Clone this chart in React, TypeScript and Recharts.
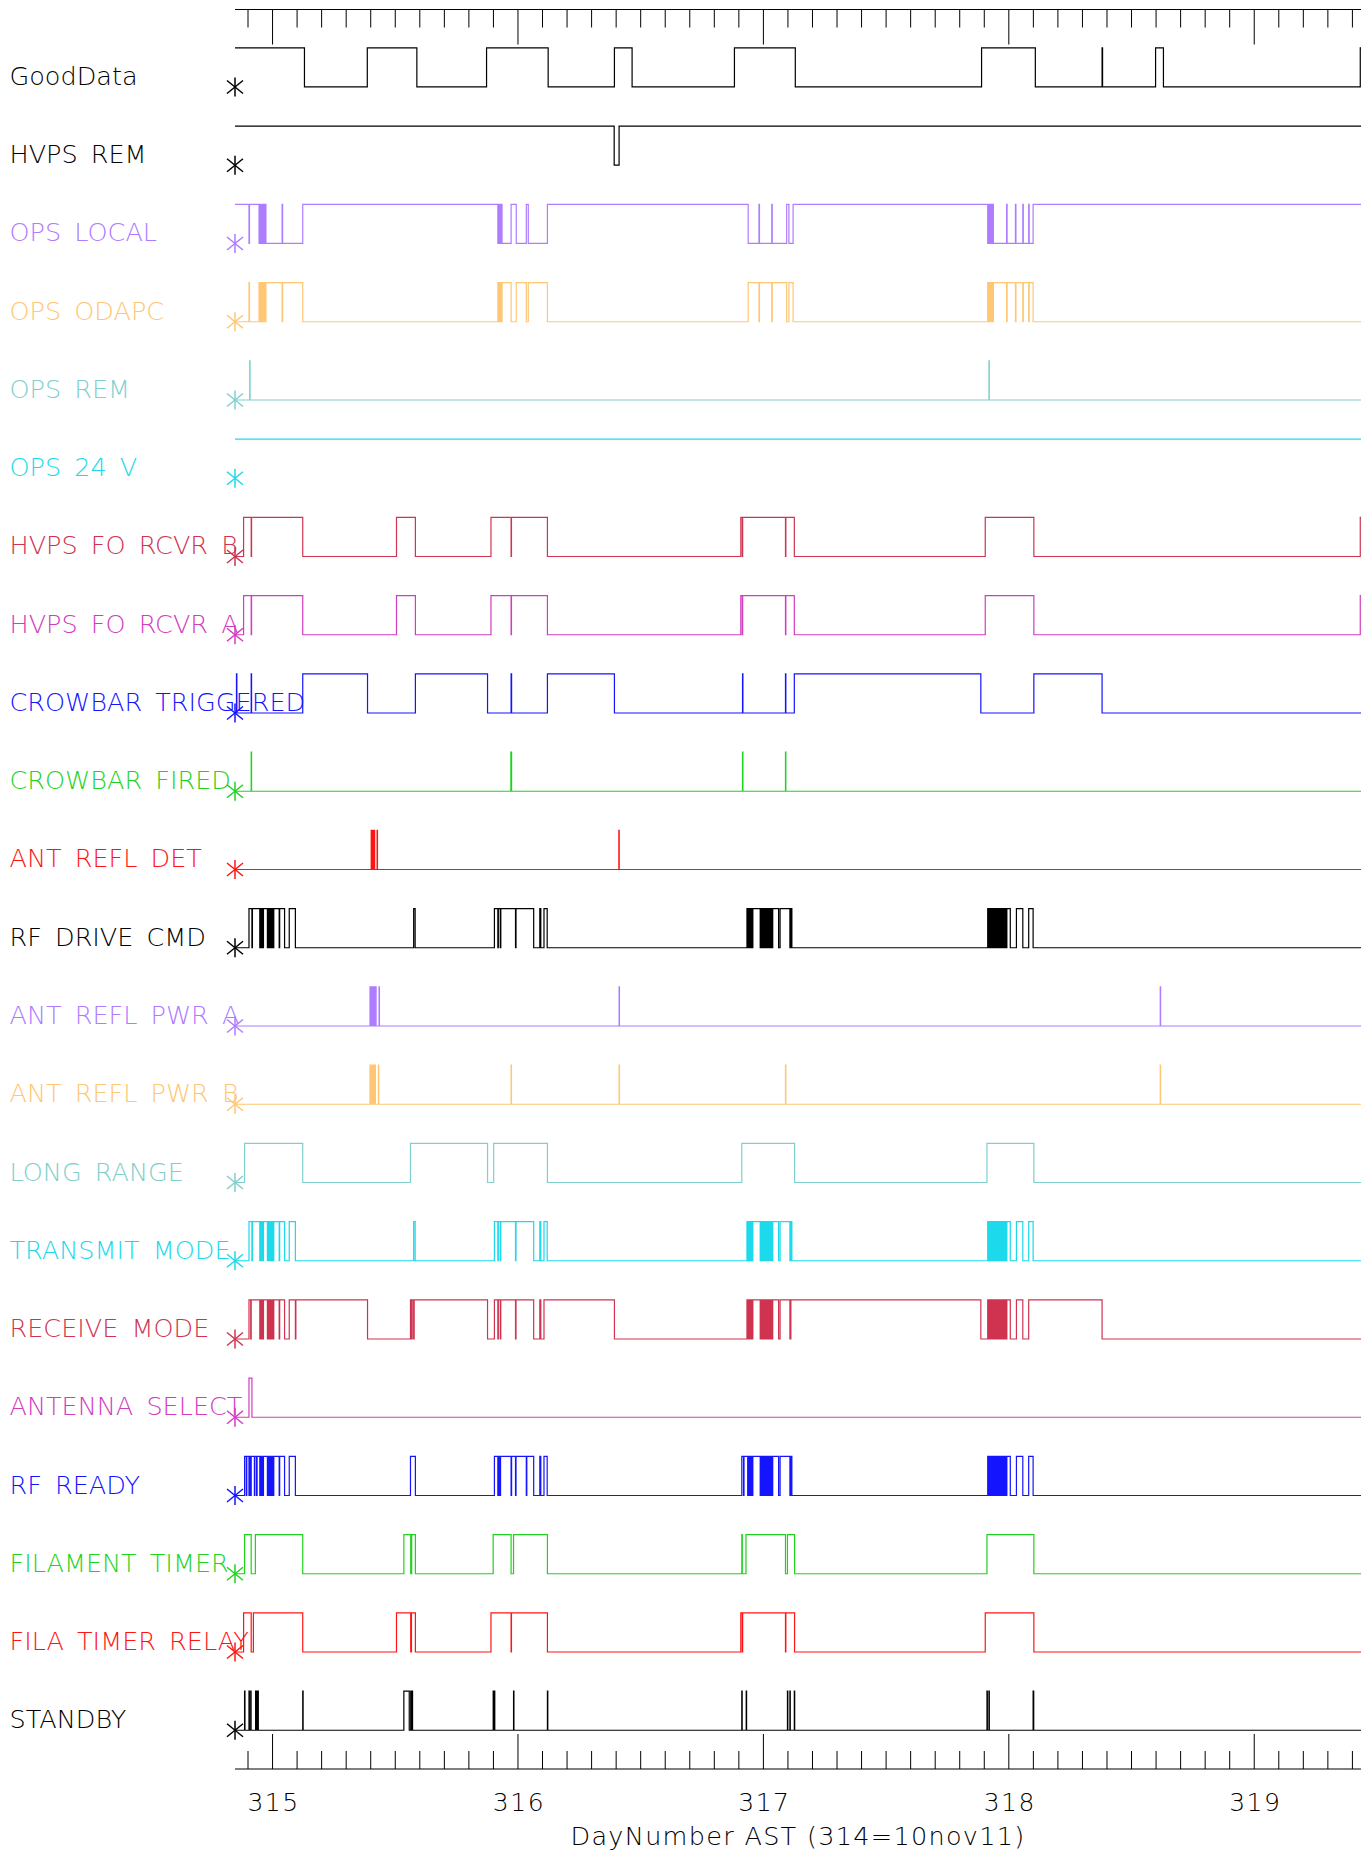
import React from 'react';
import { ComposedChart, Line, XAxis, YAxis, Scatter } from 'recharts';

// ---------- axis range & ticks ----------
const X_MIN = 314.847;
const X_MAX = 319.435;
const MAJOR_TICKS = [315, 316, 317, 318, 319];
const MINOR_STEP = 0.1;
const AXIS_TITLE = 'DayNumber AST (314=10nov11)';

// ---------- channels ----------
const CHANNEL_NAMES = [
  'GoodData', 'HVPS REM', 'OPS LOCAL', 'OPS ODAPC', 'OPS REM', 'OPS 24 V',
  'HVPS FO RCVR B', 'HVPS FO RCVR A', 'CROWBAR TRIGGERED', 'CROWBAR FIRED',
  'ANT REFL DET', 'RF DRIVE CMD', 'ANT REFL PWR A', 'ANT REFL PWR B',
  'LONG RANGE', 'TRANSMIT MODE', 'RECEIVE MODE', 'ANTENNA SELECT',
  'RF READY', 'FILAMENT TIMER', 'FILA TIMER RELAY', 'STANDBY',
];

const CHANNEL_COLORS = [
  '#000000', '#000000', '#AE7CFF', '#FFC673', '#7FCFCC', '#1CD9EC',
  '#CF3350', '#D23CC0', '#1414FF', '#1FD21F', '#FF1414', '#000000',
  '#AE7CFF', '#FFC673', '#7FCFCC', '#1CD9EC', '#CF3350', '#D23CC0',
  '#1414FF', '#1FD21F', '#FF1414', '#000000',
];

// state (0 low / 1 high) at the left edge of the plot
const CHANNEL_START = [1, 1, 1, 0, 0, 1, 0, 0, 0, 0, 0, 0, 0, 0, 0, 0, 0, 0, 0, 0, 0, 0];

// ---------- transition times (state toggles at each time) ----------
const BURST_A = [314.948, 314.951, 314.955, 314.958, 314.961, 314.963];
const BURST_B = [314.979, 314.982, 314.985, 314.988, 314.991, 314.994, 314.997, 315.0, 315.003, 315.005];
const BURST_C = [316.936, 316.939, 316.942, 316.945, 316.948, 316.951, 316.954, 316.957];
const BURST_D = [316.987, 316.99, 316.993, 316.996, 316.999, 317.002, 317.005, 317.008, 317.011,
  317.014, 317.017, 317.02, 317.023, 317.026, 317.029, 317.032, 317.035, 317.038];
const BURST_E = [317.917, 317.92, 317.923, 317.926, 317.929, 317.932, 317.935, 317.938, 317.941,
  317.944, 317.947, 317.95, 317.953, 317.956, 317.959, 317.962, 317.965, 317.968, 317.971,
  317.974, 317.977, 317.98, 317.983, 317.986, 317.989, 317.992];

const GOOD_DATA = [315.13, 315.386, 315.588, 315.872, 316.123, 316.393, 316.465, 316.882, 317.13,
  317.889, 318.108, 318.38, 318.382, 318.598, 318.63, 319.432];
const HVPS_REM = [316.392, 316.412];
const OPS_SELECT = [314.904, 314.906, 314.945, 314.948, 314.952, 314.956, 314.96, 314.964, 314.968,
  314.971, 314.973, 315.039, 315.041, 315.123,
  315.918, 315.921, 315.924, 315.927, 315.93, 315.933, 315.935, 315.972, 315.993, 316.034, 316.042, 316.12,
  316.938, 316.982, 316.984, 317.034, 317.036, 317.095, 317.104, 317.121,
  317.914, 317.917, 317.92, 317.923, 317.926, 317.929, 317.932, 317.935, 317.937, 317.991, 317.993,
  318.027, 318.029, 318.057, 318.059, 318.081, 318.083, 318.099];
const OPS_REM = [314.907, 314.9085, 317.919, 317.9205];
const OPS_24V: number[] = [];
const HVPS_FO_RCVR = [314.882, 314.913, 314.9145, 315.123, 315.505, 315.582, 315.89, 315.972, 315.9735,
  316.12, 316.908, 316.914, 316.9155, 317.09, 317.0915, 317.126, 317.904, 318.102, 319.432];
const CROWBAR_TRIG = [314.853, 314.8545, 314.913, 314.9145, 315.123, 315.387, 315.582, 315.876, 315.972,
  315.974, 316.12, 316.393, 316.915, 316.9165, 317.09, 317.0915, 317.126, 317.886, 318.102, 318.38];
const CROWBAR_FIRED = [314.913, 314.9145, 315.971, 315.974, 316.915, 316.9165, 317.09, 317.0915];
const ANT_REFL_DET = [315.402, 315.405, 315.408, 315.411, 315.413, 315.416, 315.426, 315.4275, 316.411, 316.4125];
const RF_DRIVE = [314.904, 314.916, 314.918, ...BURST_A, ...BURST_B, 315.027, 315.029, 315.049, 315.068, 315.093,
  315.575, 315.581,
  315.904, 315.918, 315.92, 315.928, 315.93, 315.99, 315.992, 316.064, 316.089, 316.093, 316.106, 316.119,
  316.933, ...BURST_C, ...BURST_D, 317.062, 317.068, 317.108, 317.112, 317.116,
  317.914, ...BURST_E, 318.006, 318.031, 318.057, 318.081, 318.099];
const ANT_PWR_A = [315.397, 315.4, 315.403, 315.406, 315.409, 315.412, 315.415, 315.418, 315.42, 315.422,
  315.434, 315.4355, 316.412, 316.4135, 318.617, 318.6185];
const ANT_PWR_B = [315.397, 315.4, 315.403, 315.406, 315.409, 315.412, 315.415, 315.419, 315.431, 315.4325,
  315.972, 315.9735, 316.412, 316.4135, 317.09, 317.0915, 318.617, 318.6185];
const LONG_RANGE = [314.886, 315.123, 315.562, 315.876, 315.901, 316.12, 316.912, 317.127, 317.911, 318.102];
const RECEIVE = [314.904, 314.911, 314.913, ...BURST_A, ...BURST_B, 315.027, 315.029, 315.049, 315.068,
  315.093, 315.095, 315.387,
  315.562, 315.567, 315.569, 315.575, 315.577, 315.876, 315.904, 315.918, 315.92, 315.928, 315.93, 315.99,
  315.992, 316.064, 316.089, 316.093, 316.106, 316.393,
  316.933, ...BURST_C, ...BURST_D, 317.062, 317.068, 317.108, 317.112, 317.886,
  317.914, ...BURST_E, 318.006, 318.031, 318.057, 318.081, 318.38];
const ANTENNA_SELECT = [314.904, 314.916];
const RF_READY = [314.886, 314.893, 314.895, 314.904, 314.906, 314.911, 314.913, 314.926, 314.928, 314.935,
  314.937, ...BURST_A, ...BURST_B, 315.027, 315.029, 315.049, 315.068, 315.093,
  315.562, 315.582,
  315.904, 315.918, 315.921, 315.926, 315.929, 315.972, 315.974, 315.99, 315.992, 316.034, 316.036, 316.064,
  316.089, 316.093, 316.106, 316.119,
  316.912, 316.919, 316.921, ...BURST_C, ...BURST_D, 317.062, 317.068, 317.108, 317.112, 317.116,
  317.914, ...BURST_E, 318.006, 318.031, 318.057, 318.081, 318.099];
const FILAMENT_TIMER = [314.886, 314.913, 314.93, 315.123, 315.535, 315.563, 315.567, 315.582, 315.899,
  315.972, 315.982, 316.12, 316.912, 316.914, 316.929, 317.09, 317.098, 317.127, 317.911, 318.102];
const FILA_RELAY = [314.882, 314.913, 314.922, 315.123, 315.505, 315.563, 315.566, 315.582, 315.89,
  315.972, 315.9735, 316.12, 316.908, 316.914, 316.9155, 317.09, 317.0915, 317.127, 317.904, 318.102];
const STANDBY = [314.886, 314.8875, 314.904, 314.9055, 314.911, 314.9125, 314.931, 314.933, 314.936, 314.938,
  314.94, 314.942, 315.123, 315.1245, 315.535, 315.557, 315.563, 315.5645, 315.569, 315.5705, 315.899,
  315.9005, 315.904, 315.9055, 315.982, 315.9835, 316.12, 316.1215, 316.912, 316.9135, 316.93, 316.9315,
  317.098, 317.0995, 317.108, 317.1095, 317.126, 317.1275, 317.911, 317.9125, 317.919, 317.9205, 318.099,
  318.1015];

const CHANNEL_EDGES = [
  GOOD_DATA, HVPS_REM, OPS_SELECT, OPS_SELECT, OPS_REM, OPS_24V,
  HVPS_FO_RCVR, HVPS_FO_RCVR, CROWBAR_TRIG, CROWBAR_FIRED,
  ANT_REFL_DET, RF_DRIVE, ANT_PWR_A, ANT_PWR_B,
  LONG_RANGE, RF_DRIVE, RECEIVE, ANTENNA_SELECT,
  RF_READY, FILAMENT_TIMER, FILA_RELAY, STANDBY,
];

// ---------- layout ----------
const W = 1368;
const H = 1853;
const HIGH = 0.5; // pulse height in row units
const Y_MAX = 0.99;
const Y_MIN = -21.495;
const FONT = "'DejaVu Sans', 'Liberation Sans', sans-serif";

const ALL_TICKS: number[] = [];
for (let i = 0; ; i++) {
  const v = Math.round((314.9 + i * MINOR_STEP) * 10) / 10;
  if (v > X_MAX) break;
  ALL_TICKS.push(v);
}
const isMajor = (v: number) => MAJOR_TICKS.some((m) => Math.abs(m - v) < 1e-6);

const CHANNEL_TICKS = CHANNEL_NAMES.map((_, k) => -k);

function buildSeries(k: number) {
  let s = CHANNEL_START[k];
  const pts = [{ x: X_MIN, y: -k + s * HIGH }];
  for (const t of CHANNEL_EDGES[k]) {
    s = 1 - s;
    pts.push({ x: t, y: -k + s * HIGH });
  }
  pts.push({ x: X_MAX, y: -k + s * HIGH });
  return pts;
}
const SERIES = CHANNEL_NAMES.map((_, k) => buildSeries(k));
const STAR_POINTS = CHANNEL_NAMES.map((_, k) => ({ x: X_MIN, y: -k, color: CHANNEL_COLORS[k] }));

const BottomTick = (props: any) => {
  const { x, y, payload } = props;
  const major = isMajor(payload.value);
  return (
    <g>
      <line x1={x} x2={x} y1={y} y2={y - (major ? 35 : 18)} stroke="#000" strokeWidth={1} />
      {major && (
        <text x={x + 1} y={y + 42} textAnchor="middle" fontSize={25} fontFamily={FONT} fontWeight={200}
          fill="#000" style={{ letterSpacing: '1.5px' }}>
          {String(payload.value)}
        </text>
      )}
    </g>
  );
};

const TopTick = (props: any) => {
  const { x, y, payload } = props;
  const major = isMajor(payload.value);
  return <line x1={x} x2={x} y1={y} y2={y + (major ? 35 : 18)} stroke="#000" strokeWidth={1} />;
};

const LabelTick = (props: any) => {
  const { y, payload } = props;
  const k = Math.round(-payload.value);
  return (
    <text x={9.5} y={y - 2} fill={CHANNEL_COLORS[k]} fontSize={25.5} fontFamily={FONT} fontWeight={200}
      style={{ wordSpacing: '5px' }}>
      {CHANNEL_NAMES[k]}
    </text>
  );
};

const Star = (props: any) => {
  const { cx, cy, payload } = props;
  return (
    <g stroke={payload.color} strokeWidth={1.5}>
      <line x1={cx} y1={cy - 9.5} x2={cx} y2={cy + 9.5} />
      <line x1={cx - 8} y1={cy - 6.5} x2={cx + 8} y2={cy + 6.5} />
      <line x1={cx - 8} y1={cy + 6.5} x2={cx + 8} y2={cy - 6.5} />
    </g>
  );
};

const AxisTitle = (props: any) => {
  const vb = props.viewBox || {};
  return (
    <text x={(vb.x || 0) + (vb.width || 0) / 2} y={(vb.y || 0) + 76} textAnchor="middle" fontSize={25.5}
      fontFamily={FONT} fontWeight={200} fill="#000" style={{ letterSpacing: '1.3px' }}>
      {AXIS_TITLE}
    </text>
  );
};

export default function App() {
  return (
    <div style={{ position: 'absolute', left: 0, top: 0, width: W, height: H, background: '#fff' }}>
      <ComposedChart width={W} height={H} margin={{ top: 0, right: 7, bottom: 0, left: 0 }}>
        <XAxis xAxisId="b" dataKey="x" type="number" orientation="bottom" domain={[X_MIN, X_MAX]}
          ticks={ALL_TICKS} interval={0} height={84} tickLine={false} tickSize={0} tickMargin={0}
          axisLine={{ stroke: '#000', strokeWidth: 1 }} tick={<BottomTick />} label={<AxisTitle />} />
        <XAxis xAxisId="t" dataKey="x" type="number" orientation="top" domain={[X_MIN, X_MAX]}
          allowDataOverflow ticks={ALL_TICKS} interval={0} height={9.5} tickLine={false} tickSize={0}
          tickMargin={0} axisLine={{ stroke: '#000', strokeWidth: 1 }} tick={<TopTick />} />
        <YAxis yAxisId="y" dataKey="y" type="number" domain={[Y_MIN, Y_MAX]} ticks={CHANNEL_TICKS}
          interval={0} width={235} axisLine={false} tickLine={false} tick={<LabelTick />} />
        {SERIES.map((data, k) => (
          <Line key={CHANNEL_NAMES[k]} xAxisId="b" yAxisId="y" data={data} dataKey="y" type="stepAfter"
            stroke={CHANNEL_COLORS[k]} strokeWidth={1.2} dot={false} activeDot={false}
            isAnimationActive={false} />
        ))}
        <Scatter xAxisId="b" yAxisId="y" data={STAR_POINTS} dataKey="y" shape={<Star />}
          isAnimationActive={false} />
      </ComposedChart>
    </div>
  );
}
